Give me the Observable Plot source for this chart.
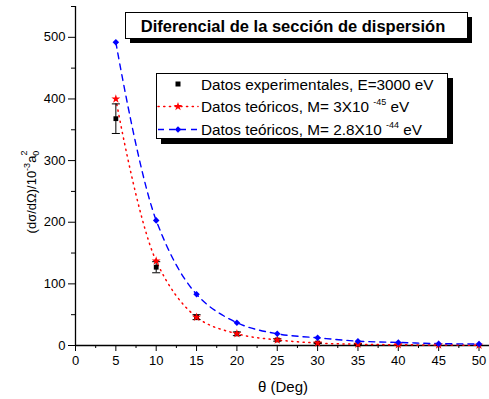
<!DOCTYPE html>
<html><head><meta charset="utf-8">
<script src="https://cdn.jsdelivr.net/npm/d3@7"></script>
<script src="https://cdn.jsdelivr.net/npm/@observablehq/plot@0.6"></script>
<style>body{margin:0;background:#fff;} svg{display:block;}</style>
</head><body><div id="chart"></div>
<script>
const angles = [5,10,15,20,25,30,35,40,45,50];
const theoryM3e45 = [400,137,46,19,9,4,2,1.2,0.8,0.5];
const theoryM28e44 = [492,203,83,37,19,12.5,7,5,3,2.5];
const expAngles = [5,10,15,20,25,30,35];
const expValues = [368,127,46,19,9,4,2];
const expErrors = [24,9,4,3,2,1,1];
const xTicks = [0,5,10,15,20,25,30,35,40,45,50];
const xMinor = [2.5,7.5,12.5,17.5,22.5,27.5,32.5,37.5,42.5,47.5];
const yTicks = [0,100,200,300,400,500];
const yMinor = [50,150,250,350,450,550];
const titleText = "Diferencial de la sección de dispersión";
const legendLabels = [
  ["Datos experimentales, E=3000 eV"],
  ["Datos teóricos, M= 3X10 ", "-45", " eV"],
  ["Datos teóricos, M= 2.8X10 ", "-44", " eV"]
];

const red = angles.map((a,i)=>({x:a, y:theoryM3e45[i]}));
const blue = angles.map((a,i)=>({x:a, y:theoryM28e44[i]}));
const exp = expAngles.map((a,i)=>({x:a, y:expValues[i], e:expErrors[i]}));

const diamondSq = {
  draw(ctx, size) {
    const r = Math.sqrt(size / 2);
    ctx.moveTo(0, -r); ctx.lineTo(r, 0); ctx.lineTo(0, r); ctx.lineTo(-r, 0); ctx.closePath();
  }
};

const W = 489, H = 399;
const plot = Plot.plot({
  width: W, height: H,
  marginLeft: 75, marginRight: 0, marginTop: 6, marginBottom: 54,
  style: {fontFamily: "'Liberation Sans', Arial, sans-serif", fontSize: "13px", background: "#fff", color: "#000"},
  x: {domain: [0, 51.3]},
  y: {domain: [0, 550]},
  marks: [
    Plot.axisX({ticks: xTicks, tickSize: 6, tickPadding: 4, tickFormat: d=>d, label: null, fontSize: 13}),
    Plot.axisX({ticks: xMinor, tickSize: 3, label: null, text: null}),
    Plot.axisY({ticks: yTicks, tickSize: 7, tickPadding: 3, tickFormat: d=>d, label: null, fontSize: 13}),
    Plot.axisY({ticks: yMinor, tickSize: 4, label: null, text: null}),
    Plot.ruleX([0], {y1: 0, y2: 550, stroke: "#000", strokeWidth: 1.3}),
    Plot.ruleY([0], {stroke: "#000", strokeWidth: 1.3}),
    Plot.line(red, {x: "x", y: "y", stroke: "#ff0000", strokeWidth: 1.5, strokeDasharray: "1.2,4.5", strokeLinecap: "round", curve: "catmull-rom"}),
    Plot.line(blue, {x: "x", y: "y", stroke: "#0000ff", strokeWidth: 1.4, strokeDasharray: "6,5", curve: "catmull-rom"}),
    Plot.ruleX(exp, {x: "x", y1: d=>d.y-d.e, y2: d=>d.y+d.e, stroke: "#000", strokeWidth: 1}),
    Plot.link(exp, {x1: d=>d.x-0.5, x2: d=>d.x+0.5, y1: d=>d.y-d.e, y2: d=>d.y-d.e, stroke: "#000", strokeWidth: 1}),
    Plot.link(exp, {x1: d=>d.x-0.5, x2: d=>d.x+0.5, y1: d=>d.y+d.e, y2: d=>d.y+d.e, stroke: "#000", strokeWidth: 1}),
    Plot.dot(exp, {x: "x", y: "y", symbol: "square", r: 2.7, fill: "#000", stroke: "none"}),
    Plot.dot(red, {x: "x", y: "y", symbol: "star", r: 2.8, fill: "#ff0000", stroke: "none"}),
    Plot.dot(blue, {x: "x", y: "y", symbol: diamondSq, r: 2.6, fill: "#0000ff", stroke: "none"})
  ]
});
document.getElementById("chart").appendChild(plot);

const svg = d3.select(plot);
const font = "'Liberation Sans', Arial, sans-serif";

// y-axis label
const yl = svg.append("text")
  .attr("transform", "translate(36,192) rotate(-90)")
  .attr("text-anchor", "middle")
  .attr("font-family", font).attr("font-size", 13).attr("fill", "#000");
yl.append("tspan").text("(dσ/dΩ)/10");
yl.append("tspan").attr("dy", -6).attr("font-size", 9).text("-3");
yl.append("tspan").attr("dy", 6).text("a");
yl.append("tspan").attr("dy", 3).attr("font-size", 9).text("0");
yl.append("tspan").attr("dy", -12).attr("dx", -5).attr("font-size", 9).text("2");

// x-axis label
svg.append("text").attr("x", 283).attr("y", 392).attr("text-anchor", "middle")
  .attr("font-family", font).attr("font-size", 15).attr("fill", "#000").text("θ (Deg)");

// title box
const tb = svg.append("g");
tb.append("rect").attr("x", 130).attr("y", 17).attr("width", 342).attr("height", 26).attr("fill", "#000");
tb.append("rect").attr("x", 125.5).attr("y", 12.5).attr("width", 342).attr("height", 26).attr("fill", "#fff").attr("stroke", "#000").attr("stroke-width", 1);
tb.append("text").attr("x", 293).attr("y", 32).attr("text-anchor", "middle")
  .attr("font-family", font).attr("font-size", 16.5).attr("font-weight", "bold").attr("fill", "#000").text(titleText);

// legend
const lg = svg.append("g");
lg.append("rect").attr("x", 161).attr("y", 78).attr("width", 292).attr("height", 66).attr("fill", "#000");
lg.append("rect").attr("x", 156.5).attr("y", 73.5).attr("width", 291).attr("height", 65).attr("fill", "#fff").attr("stroke", "#000").attr("stroke-width", 1);
const rowsY = [84, 106.5, 129.5];
lg.append("rect").attr("x", 175.5).attr("y", rowsY[0]-2.5).attr("width", 5).attr("height", 5).attr("fill", "#000");
lg.append("line").attr("x1", 158).attr("x2", 198).attr("y1", rowsY[1]).attr("y2", rowsY[1])
  .attr("stroke", "#ff0000").attr("stroke-width", 1.5).attr("stroke-dasharray", "1.2,4.5").attr("stroke-linecap", "round");
lg.append("path").attr("d", d3.symbol(d3.symbolStar, 24)()).attr("transform", `translate(178,${rowsY[1]})`).attr("fill", "#ff0000");
lg.append("line").attr("x1", 158).attr("x2", 198).attr("y1", rowsY[2]).attr("y2", rowsY[2])
  .attr("stroke", "#0000ff").attr("stroke-width", 1.4).attr("stroke-dasharray", "6,5");
lg.append("path").attr("d", d3.symbol(diamondSq, 21)()).attr("transform", `translate(178,${rowsY[2]})`).attr("fill", "#0000ff");
legendLabels.forEach((parts, i) => {
  const t = lg.append("text").attr("x", 201).attr("y", rowsY[i] + 5.5).attr("text-anchor", "start")
    .attr("font-family", font).attr("font-size", 15.3).attr("fill", "#000");
  t.append("tspan").text(parts[0]);
  if (parts.length > 1) {
    t.append("tspan").attr("dy", -7).attr("font-size", 9).text(parts[1]);
    t.append("tspan").attr("dy", 7).text(parts[2]);
  }
});
</script>
</body></html>
